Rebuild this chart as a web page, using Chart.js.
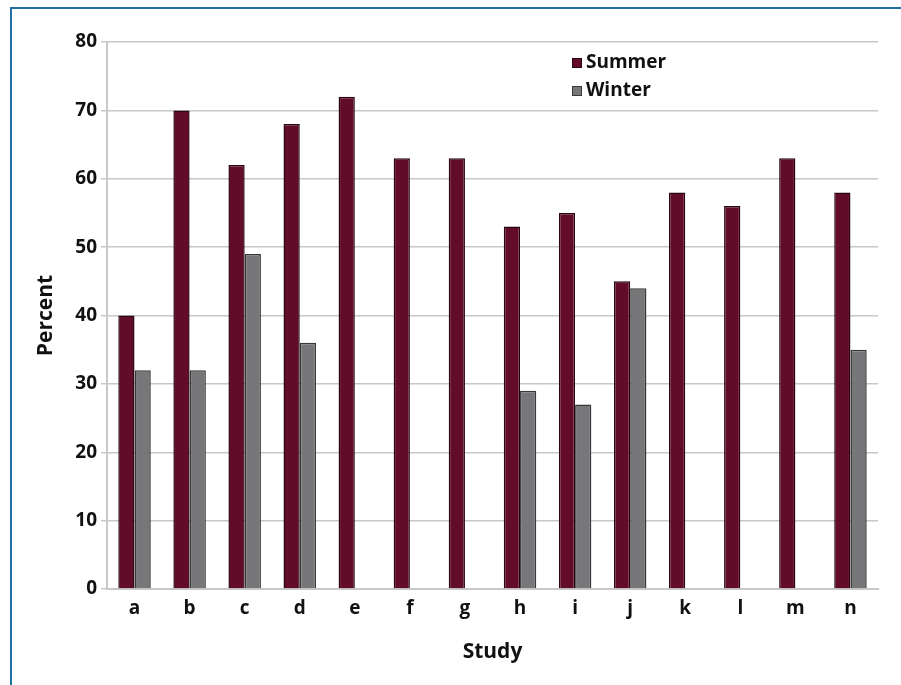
<!DOCTYPE html>
<html>
<head>
<meta charset="utf-8">
<script src="https://cdn.jsdelivr.net/npm/chart.js@4.4.1/dist/chart.umd.min.js"></script>
<style>
  html, body { margin: 0; padding: 0; background: #fff; }
  #wrap { position: relative; width: 901px; height: 685px; overflow: hidden; }
  #frame { position: absolute; left: 10px; top: 7px; width: 900px; height: 700px;
           border-left: 2px solid #1f6fa3; border-top: 2px solid #1f6fa3; }
  canvas { position: absolute; left: 0; top: 0; }
</style>
</head>
<body>
<div id="wrap">
  <div id="frame"></div>
  <canvas id="study-chart" width="901" height="685"></canvas>
</div>
<script>
const studies = ['a', 'b', 'c', 'd', 'e', 'f', 'g', 'h', 'i', 'j', 'k', 'l', 'm', 'n'];
const summer = [40, 70, 62, 68, 72, 63, 63, 53, 55, 45, 58, 56, 63, 58];
const winter = [32, 32, 49, 36, null, null, null, 29, 27, 44, null, null, null, 35];

const FONT = "'Open Sans', 'DejaVu Sans', sans-serif";

// legend drawn inside the plot, like the original
const innerLegend = {
    id: 'innerLegend',
    afterDraw(chart) {
        const ctx = chart.ctx;
        const items = chart.data.datasets;
        ctx.save();
        ctx.font = 'bold 19px ' + FONT;
        ctx.textBaseline = 'middle';
        items.forEach((ds, i) => {
            const y = 63 + i * 28;
            ctx.fillStyle = ds.backgroundColor;
            ctx.fillRect(572, y - 5, 10, 10);
            ctx.strokeStyle = ds.borderColor;
            ctx.lineWidth = 1;
            ctx.strokeRect(572.5, y - 4.5, 9, 9);
            ctx.fillStyle = '#111';
            ctx.fillText(ds.label, 586, y);
        });
        ctx.restore();
    }
};

new Chart(document.getElementById('study-chart'), {
    type: 'bar',
    data: {
        labels: studies,
        datasets: [{
            label: 'Summer',
            data: summer,
            backgroundColor: '#620c2a',
            borderColor: '#2a0410',
            borderWidth: 1.5,
            categoryPercentage: 0.59,
            barPercentage: 1
        }, {
            label: 'Winter',
            data: winter,
            backgroundColor: '#77777a',
            borderColor: '#38383a',
            borderWidth: 1.5,
            categoryPercentage: 0.59,
            barPercentage: 1
        }]
    },
    options: {
        responsive: false,
        animation: false,
        layout: {
            padding: { left: 14, right: 23, top: 42, bottom: 0 }
        },
        plugins: {
            legend: { display: false },
            tooltip: { enabled: false }
        },
        scales: {
            x: {
                afterFit: (scale) => { scale.height = 96; },
                grid: {
                    display: true,
                    drawOnChartArea: false,
                    drawTicks: false,
                    color: '#c8c8c8'
                },
                border: { color: '#c8c8c8', width: 2 },
                ticks: {
                    color: '#111',
                    padding: 8,
                    font: { family: FONT, size: 19, weight: 'bold' }
                },
                title: {
                    display: true,
                    text: 'Study',
                    color: '#111',
                    padding: { top: 0, bottom: 20 },
                    font: { family: FONT, size: 21, weight: 'bold' }
                }
            },
            y: {
                min: 0,
                max: 80,
                afterFit: (scale) => { scale.width = 93; },
                grid: {
                    color: '#c8c8c8',
                    lineWidth: 1.5,
                    tickLength: 6
                },
                border: { color: '#c8c8c8', width: 2 },
                ticks: {
                    stepSize: 10,
                    color: '#111',
                    padding: 4,
                    font: { family: FONT, size: 19, weight: 'bold' }
                },
                title: {
                    display: true,
                    text: 'Percent',
                    color: '#111',
                    padding: { top: 19, bottom: 0 },
                    font: { family: FONT, size: 21, weight: 'bold' }
                }
            }
        }
    },
    plugins: [innerLegend]
});
</script>
</body>
</html>
